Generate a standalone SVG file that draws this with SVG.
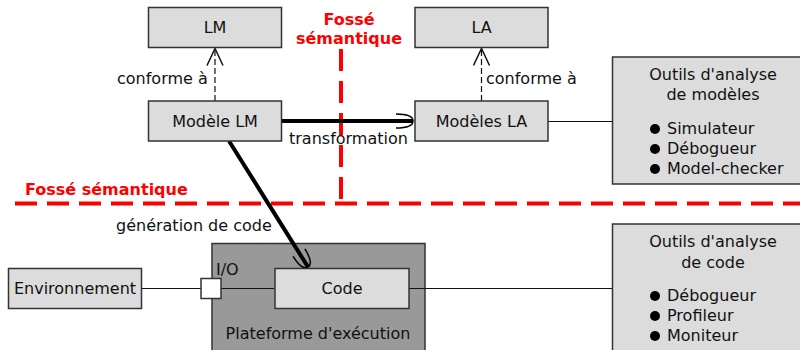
<svg xmlns="http://www.w3.org/2000/svg" width="800" height="350" viewBox="0 0 800 350">
  <style>
    text { font-family: "DejaVu Sans", "Liberation Sans", sans-serif; font-size: 16px; fill: #111; }
    .box { fill: #dcdcdc; stroke: #333; stroke-width: 1.5; }
    .plat { fill: #999999; stroke: #333; stroke-width: 1.5; }
    .port { fill: #ffffff; stroke: #333; stroke-width: 1.5; }
    .c { text-anchor: middle; }
    .gap { stroke: #ff0000; stroke-width: 4; stroke-dasharray: 22 10; fill: none; }
    .gaplbl { fill: #ff0000; font-weight: bold; }
    .link { stroke: #111; stroke-width: 1.2; fill: none; }
    .conf { stroke: #111; stroke-width: 1.2; stroke-dasharray: 6 3; fill: none; marker-end: url(#open); }
    .thick { stroke: #000; stroke-width: 4; fill: none; marker-end: url(#curved); }
  </style>
  <defs>
    <marker id="open" viewBox="-18 -9 20 18" refX="0" refY="0" markerWidth="20" markerHeight="18" markerUnits="userSpaceOnUse" orient="auto">
      <path d="M -17,-8 L 0,0 L -17,8" fill="none" stroke="#111" stroke-width="1.5"/>
    </marker>
    <marker id="curved" viewBox="-20 -10 22 20" refX="0" refY="0" markerWidth="22" markerHeight="20" markerUnits="userSpaceOnUse" orient="auto">
      <path d="M -17,-7 Q 0,-7 0,0 Q 0,7 -17,7" fill="none" stroke="#000" stroke-width="1.5"/>
    </marker>
  </defs>

  <!-- semantic gap lines -->
  <g id="semantic-gaps">
    <line class="gap" x1="15" y1="203.5" x2="800" y2="203.5"/>
    <line class="gap" x1="341" y1="49" x2="341" y2="203"/>
    <text class="gaplbl c" x="349" y="25">Fossé</text>
    <text class="gaplbl c" x="349" y="44">sémantique</text>
    <text class="gaplbl" x="25" y="195">Fossé sémantique</text>
  </g>

  <!-- execution platform (container) -->
  <g id="plateforme">
    <rect class="plat" x="212" y="243.5" width="213" height="120"/>
    <text class="c" x="318" y="339">Plateforme d'exécution</text>
  </g>

  <!-- connectors -->
  <g id="connectors">
    <line class="conf" x1="215" y1="101" x2="215" y2="48.5"/>
    <text x="117" y="84">conforme à</text>
    <line class="conf" x1="481.5" y1="101" x2="481.5" y2="48.5"/>
    <text x="486" y="84">conforme à</text>
    <line class="thick" x1="282" y1="121" x2="413" y2="121"/>
    <text x="289" y="144">transformation</text>
    <line class="thick" x1="229" y1="141" x2="308" y2="267"/>
    <text x="116" y="231">génération de code</text>
    <line class="link" x1="548" y1="121.5" x2="612" y2="121.5"/>
    <line class="link" x1="142" y1="288.5" x2="201" y2="288.5"/>
    <line class="link" x1="221" y1="288.5" x2="274" y2="288.5"/>
    <line class="link" x1="409" y1="288.5" x2="612" y2="288.5"/>
  </g>

  <g id="lm">
    <rect class="box" x="148.5" y="7.5" width="133" height="40"/>
    <text class="c" x="215" y="33">LM</text>
  </g>
  <g id="modele-lm">
    <rect class="box" x="148.5" y="101" width="133" height="40"/>
    <text class="c" x="215" y="127">Modèle LM</text>
  </g>
  <g id="la">
    <rect class="box" x="415" y="7.5" width="133" height="40"/>
    <text class="c" x="481.5" y="33">LA</text>
  </g>
  <g id="modeles-la">
    <rect class="box" x="415" y="101" width="133" height="40"/>
    <text class="c" x="481.5" y="127">Modèles LA</text>
  </g>
  <g id="outils-modeles">
    <rect class="box" x="612.5" y="57" width="200" height="127"/>
    <text class="c" x="713" y="80">Outils d'analyse</text>
    <text class="c" x="713" y="100">de modèles</text>
    <circle cx="655" cy="129" r="5" fill="#000"/>
    <text x="667" y="134">Simulateur</text>
    <circle cx="655" cy="149" r="5" fill="#000"/>
    <text x="667" y="154">Débogueur</text>
    <circle cx="655" cy="169" r="5" fill="#000"/>
    <text x="667" y="174">Model-checker</text>
  </g>
  <g id="environnement">
    <rect class="box" x="8.5" y="268.5" width="133" height="40"/>
    <text class="c" x="75" y="294">Environnement</text>
  </g>
  <g id="io">
    <rect class="port" x="201" y="278.5" width="20" height="20"/>
    <text x="216" y="275">I/O</text>
  </g>
  <g id="code">
    <rect class="box" x="275" y="268.5" width="134" height="40"/>
    <text class="c" x="342" y="294">Code</text>
  </g>
  <g id="outils-code">
    <rect class="box" x="612.5" y="224" width="200" height="140"/>
    <text class="c" x="713" y="247">Outils d'analyse</text>
    <text class="c" x="713" y="268">de code</text>
    <circle cx="655" cy="296" r="5" fill="#000"/>
    <text x="667" y="301">Débogueur</text>
    <circle cx="655" cy="316" r="5" fill="#000"/>
    <text x="667" y="321">Profileur</text>
    <circle cx="655" cy="336" r="5" fill="#000"/>
    <text x="667" y="341">Moniteur</text>
  </g>
</svg>
